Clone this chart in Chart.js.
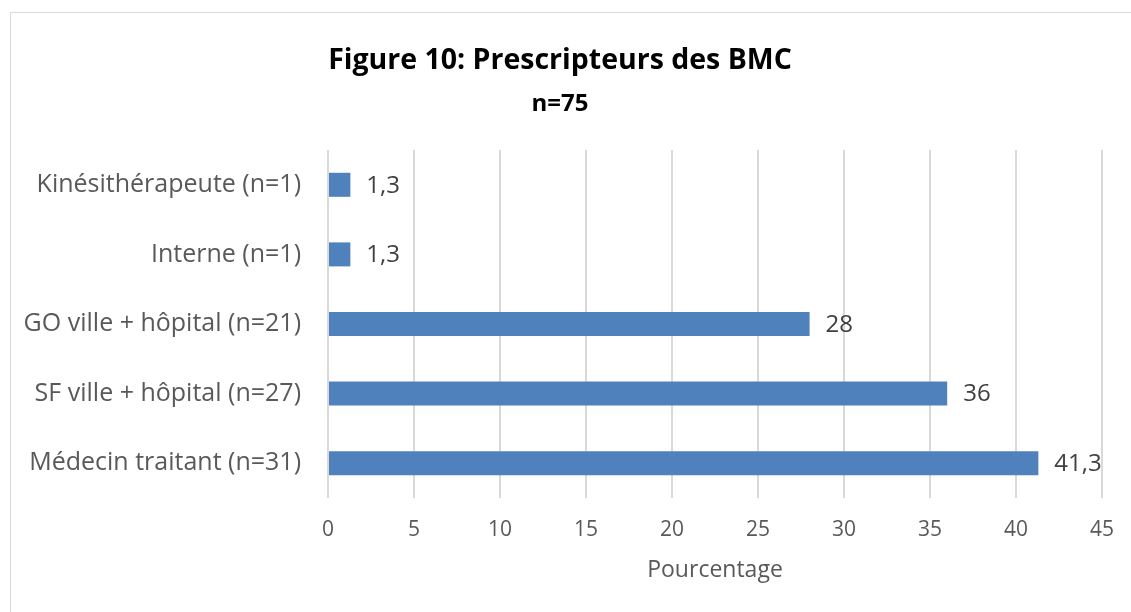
<!DOCTYPE html>
<html>
<head>
<meta charset="utf-8">
<script src="https://cdn.jsdelivr.net/npm/chart.js@4"></script>
<style>
  html, body { margin: 0; padding: 0; background: #fff; overflow: hidden; }
  #frame { position: absolute; left: 10px; top: 12px; width: 1140px; height: 620px;
           border: 1px solid #d9d9d9; box-sizing: border-box; }
  #wrap { position: absolute; left: 0; top: 0; width: 1131px; height: 612px; }
</style>
</head>
<body>
<div id="frame"></div>
<div id="wrap"><canvas id="chart"></canvas></div>
<script>
// Data (top to bottom)
const categories = [
    'Kinésithérapeute (n=1)',
    'Interne (n=1)',
    'GO ville + hôpital (n=21)',
    'SF ville + hôpital (n=27)',
    'Médecin traitant (n=31)'
];
const percentages = [1.3, 1.3, 28, 36, 41.3];
const xTicks = [0, 5, 10, 15, 20, 25, 30, 35, 40, 45];

const FONT = '"Open Sans", sans-serif';

// value labels at the end of each bar, comma decimals
const barLabels = {
    id: 'barLabels',
    afterDatasetsDraw(chart) {
        const ctx = chart.ctx;
        const meta = chart.getDatasetMeta(0);
        ctx.save();
        ctx.font = '24px ' + FONT;
        ctx.fillStyle = '#404040';
        ctx.textAlign = 'left';
        ctx.textBaseline = 'middle';
        meta.data.forEach((bar, i) => {
            const txt = String(percentages[i]).replace('.', ',');
            ctx.fillText(txt, bar.x + 16, bar.y + 1);
        });
        ctx.restore();
    }
};

new Chart(document.getElementById('chart'), {
    type: 'bar',
    data: {
        labels: categories,
        datasets: [{
            data: percentages,
            backgroundColor: '#4f81bd',
            borderWidth: 0,
            barPercentage: 0.345,
            categoryPercentage: 1
        }]
    },
    options: {
        indexAxis: 'y',
        responsive: true,
        maintainAspectRatio: false,
        animation: false,
        layout: { padding: { left: 18, right: 29, top: 0, bottom: 0 } },
        plugins: {
            legend: { display: false },
            tooltip: { enabled: false },
            title: {
                display: true,
                text: 'Figure 10: Prescripteurs des BMC',
                color: '#000',
                font: { family: FONT, size: 28.5, weight: 'bold' },
                padding: { top: 44, bottom: 0 }
            },
            subtitle: {
                display: true,
                text: 'n=75',
                color: '#000',
                font: { family: FONT, size: 24, weight: 'bold' },
                padding: { top: 12, bottom: 31 }
            }
        },
        scales: {
            x: {
                min: 0,
                max: 45,
                afterBuildTicks: s => { s.ticks = xTicks.map(v => ({ value: v })); },
                afterFit: s => { s.height = 114; s.paddingLeft = 0; s.paddingRight = 0; },
                grid: { color: '#d9d9d9', lineWidth: 2, drawTicks: false },
                border: { display: false },
                ticks: { color: '#595959', font: { family: FONT, size: 21 }, padding: 19, maxRotation: 0 },
                title: {
                    display: true,
                    text: 'Pourcentage',
                    color: '#595959',
                    font: { family: FONT, size: 23 },
                    padding: { top: 0, bottom: 28 }
                }
            },
            y: {
                afterFit: s => { s.width = 310; },
                grid: { display: false, drawTicks: false },
                border: { display: false },
                ticks: { color: '#595959', font: { family: FONT, size: 25 }, padding: 27 }
            }
        }
    },
    plugins: [barLabels]
});
</script>
</body>
</html>
